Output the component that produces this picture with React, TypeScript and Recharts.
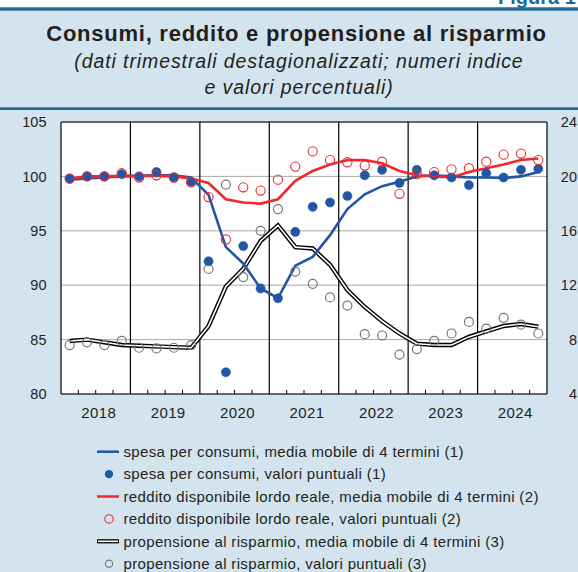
import { CartesianGrid, ComposedChart, Line, ReferenceLine, XAxis, YAxis } from "recharts";

// anni e trimestri (2018T1 .. 2024T4)
const years = [2018, 2019, 2020, 2021, 2022, 2023, 2024];
const quarters = years.flatMap((y) => [1, 2, 3, 4].map((q) => `${y}T${q}`));

// spesa per consumi (indice, asse sx)
const spesaMM = [
  99.7, 99.8, 99.9, 100.0, 100.05, 100.1, 100.1, 99.9, 98.3, 93.5, 92.0, 89.7, 88.8, 91.8,
  92.6, 94.6, 97.0, 98.35, 99.1, 99.5, 100.0, 100.1, 100.0, 99.9, 99.9, 99.85, 100.0, 100.4,
];
const spesa = [
  99.8, 100.0, 100.0, 100.2, 100.0, 100.4, 99.9, 99.5, 92.2, 82.0, 93.6, 89.7, 88.8, 94.9,
  97.2, 97.6, 98.2, 100.1, 100.6, 99.4, 100.6, 100.1, 99.9, 99.2, 100.3, 99.9, 100.6, 100.7,
];

// reddito disponibile lordo reale (indice, asse sx)
const redditoMM = [
  99.8, 100.0, 100.0, 100.05, 100.05, 100.05, 100.0, 99.8, 99.4, 97.9, 97.6, 97.5, 97.9, 99.6,
  100.5, 101.1, 101.5, 101.5, 101.2, 100.5, 100.1, 100.0, 99.9, 100.4, 100.75, 101.1, 101.5, 101.65,
];
const reddito = [
  99.8, 100.0, 100.0, 100.3, 99.9, 100.1, 99.9, 99.45, 98.1, 94.2, 99.0, 98.7, 99.7, 100.9,
  102.3, 101.5, 101.3, 101.0, 101.35, 98.4, 100.2, 100.4, 100.65, 100.75, 101.35, 102.0, 102.1, 101.5,
];

// propensione al risparmio (%, asse dx)
const propMM = [
  7.9, 8.0, 7.8, 7.6, 7.55, 7.5, 7.45, 7.4, 9.0, 11.9, 13.2, 15.25, 16.4, 14.8,
  14.7, 13.5, 11.65, 10.4, 9.35, 8.45, 7.7, 7.6, 7.6, 8.2, 8.6, 9.0, 9.15, 8.95,
];
const prop = [
  7.6, 7.8, 7.6, 7.9, 7.4, 7.35, 7.4, 7.6, 13.2, 19.4, 12.6, 16.0, 17.6, 13.0,
  12.1, 11.1, 10.5, 8.4, 8.3, 6.9, 7.3, 7.9, 8.45, 9.3, 8.8, 9.6, 9.1, 8.45,
];

const leftTicks = [80, 85, 90, 95, 100, 105];
const rightTicks = [4, 8, 12, 16, 20, 24];

const legendItems = [
  { label: "spesa per consumi, media mobile di 4 termini (1)", kind: "line" },
  { label: "spesa per consumi, valori puntuali (1)", kind: "dot" },
  { label: "reddito disponibile lordo reale, media mobile di 4 termini (2)", kind: "line" },
  { label: "reddito disponibile lordo reale, valori puntuali (2)", kind: "circle" },
  { label: "propensione al risparmio, media mobile di 4 termini (3)", kind: "double" },
  { label: "propensione al risparmio, valori puntuali (3)", kind: "circle" },
];

const BG = "#d3e4ee";
const BLUE = "#2156a5";
const RED = "#f0282d";
const GREY = "#777";
const TEXT = "#231f20";
const FONT = '"Liberation Sans", Arial, sans-serif';
const legendColors = [BLUE, BLUE, RED, RED, "#000", GREY];

const data = quarters.map((q, i) => ({
  q,
  x: i + 0.5,
  spesaMM: spesaMM[i],
  spesa: spesa[i],
  redditoMM: redditoMM[i],
  reddito: reddito[i],
  propMM: propMM[i],
  prop: prop[i],
}));

const yearCentres = years.map((_, i) => i * 4 + 2);
const yearBounds = years.slice(1).map((_, i) => (i + 1) * 4);
const quarterBounds = quarters.map((_, i) => i).filter((i) => i > 0 && i % 4 !== 0);

function YearTick({ x, y, payload }: any) {
  return (
    <text x={x + 3} y={y} dy="0.71em" textAnchor="middle" fontSize={15} letterSpacing={0.4} fill={TEXT}>
      {years[(payload.value - 2) / 4]}
    </text>
  );
}

function RightTick({ x, y, payload }: any) {
  return (
    <text x={x + 30} y={y} dy="0.355em" textAnchor="end" fontSize={14.5} fill={TEXT}>
      {payload.value}
    </text>
  );
}

function LegendSymbol({ kind, color, cy }: { kind: string; color: string; cy: number }) {
  if (kind === "line") return <line x1={97} x2={119} y1={cy} y2={cy} stroke={color} strokeWidth={2.5} />;
  if (kind === "double")
    return (
      <g>
        <line x1={97} x2={119} y1={cy} y2={cy} stroke="#000" strokeWidth={4.2} />
        <line x1={98} x2={118} y1={cy} y2={cy} stroke="#fff" strokeWidth={1.6} />
      </g>
    );
  if (kind === "dot") return <circle cx={109} cy={cy} r={4.2} fill={color} />;
  return <circle cx={109} cy={cy} r={color === GREY ? 3.6 : 4.2} fill="none" stroke={color} strokeWidth={1.1} />;
}

export default function App() {
  return (
    <div style={{ position: "absolute", left: 0, top: 0, width: 578, height: 572, background: BG, overflow: "hidden", fontFamily: FONT }}>
      <svg width={578} height={120} style={{ position: "absolute", left: 0, top: 0 }}>
        <rect x={0} y={0} width={578} height={7.3} fill="#fff" />
        <rect x={0} y={7.3} width={578} height={3.4} fill="#22688f" />
        <rect x={0} y={107.3} width={578} height={2.7} fill="#22688f" />
        <text x={498} y={3.5} fontSize={20} fontWeight="bold" fill="#1b6b9a">Figura 1</text>
        <text x={296.5} y={40.7} textAnchor="middle" fontSize={22} fontWeight="bold" letterSpacing={0.75} fill={TEXT}>
          Consumi, reddito e propensione al risparmio
        </text>
        <text x={299} y={67.7} textAnchor="middle" fontSize={19.5} fontStyle="italic" letterSpacing={0.9} fill={TEXT}>
          (dati trimestrali destagionalizzati; numeri indice
        </text>
        <text x={299} y={93.5} textAnchor="middle" fontSize={19.5} fontStyle="italic" letterSpacing={0.9} fill={TEXT}>
          e valori percentuali)
        </text>
      </svg>

      <div style={{ position: "absolute", left: 0, top: 0 }}>
        <ComposedChart width={578} height={430} data={data} margin={{ top: 122, right: 0, bottom: 0, left: 0 }} style={{ fontFamily: FONT }}>
          <CartesianGrid yAxisId="left" vertical={false} stroke="#a9a9a9" fill="#fff" />
          <XAxis
            dataKey="x"
            type="number"
            domain={[0, quarters.length]}
            ticks={yearCentres}
            height={36}
            tickLine={false}
            tickSize={0}
            tickMargin={13}
            axisLine={{ stroke: "#000", strokeWidth: 1.2 }}
            tick={<YearTick />}
            interval={0}
          />
          <YAxis
            yAxisId="left"
            domain={[80, 105]}
            ticks={leftTicks}
            width={61}
            tickLine={false}
            tickSize={0}
            tickMargin={14.5}
            axisLine={{ stroke: "#000", strokeWidth: 1.2 }}
            tick={{ fill: TEXT, fontSize: 14.5 }}
            interval={0}
          />
          <YAxis
            yAxisId="right"
            orientation="right"
            domain={[4, 24]}
            ticks={rightTicks}
            width={31}
            tickLine={false}
            tickSize={0}
            tickMargin={0}
            axisLine={{ stroke: "#000", strokeWidth: 1.2 }}
            tick={<RightTick />}
            interval={0}
          />
          <ReferenceLine yAxisId="left" y={105} stroke="#000" strokeWidth={1.2} />
          {yearBounds.map((b) => (
            <ReferenceLine key={`y${b}`} yAxisId="left" x={b} stroke="#000" strokeWidth={1.2} />
          ))}
          {quarterBounds.map((b) => (
            <ReferenceLine
              key={`q${b}`}
              yAxisId="left"
              segment={[{ x: b, y: 80 }, { x: b, y: 80.38 }]}
              stroke="#000"
              strokeWidth={1}
            />
          ))}

          <Line yAxisId="right" dataKey="propMM" stroke="#000" strokeWidth={4.4} dot={false} isAnimationActive={false} />
          <Line yAxisId="right" dataKey="propMM" stroke="#fff" strokeWidth={1.6} dot={false} isAnimationActive={false} />
          <Line yAxisId="left" dataKey="spesaMM" stroke={BLUE} strokeWidth={2.6} dot={false} isAnimationActive={false} />
          <Line yAxisId="left" dataKey="redditoMM" stroke={RED} strokeWidth={2.6} dot={false} isAnimationActive={false} />

          <Line
            yAxisId="right"
            dataKey="prop"
            stroke="none"
            dot={{ r: 4.5, fill: "none", stroke: GREY, strokeWidth: 1.2 }}
            isAnimationActive={false}
          />
          <Line
            yAxisId="left"
            dataKey="spesa"
            stroke="none"
            dot={{ r: 4.6, fill: BLUE, stroke: BLUE, strokeWidth: 0.5 }}
            isAnimationActive={false}
          />
          <Line
            yAxisId="left"
            dataKey="reddito"
            stroke="none"
            dot={{ r: 4.6, fill: "none", stroke: RED, strokeWidth: 1.1 }}
            isAnimationActive={false}
          />
        </ComposedChart>
      </div>

      <svg width={578} height={142} style={{ position: "absolute", left: 0, top: 430 }}>
        {legendItems.map((item, i) => {
          const cy = 21.7 + i * 22.4;
          return (
            <g key={item.label}>
              <LegendSymbol kind={item.kind} color={legendColors[i]} cy={cy} />
              <text x={123.5} y={cy + 5.3} fontSize={15} letterSpacing={0.35} fill={TEXT}>
                {item.label}
              </text>
            </g>
          );
        })}
      </svg>
    </div>
  );
}
